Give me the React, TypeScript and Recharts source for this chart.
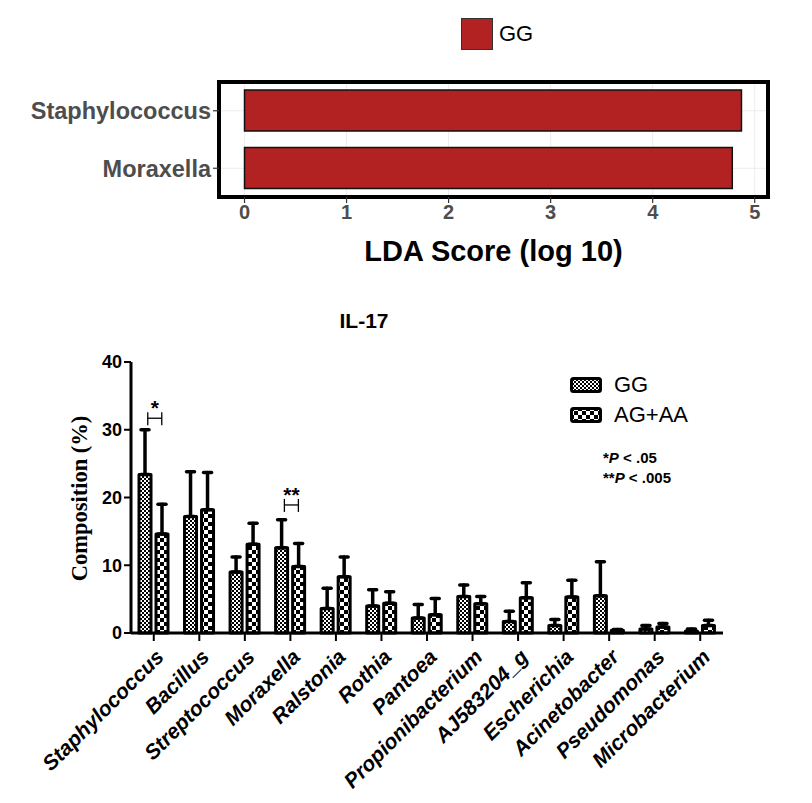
import React from 'react';
import {
  BarChart, Bar, XAxis, YAxis, CartesianGrid, ReferenceArea, ReferenceDot, ErrorBar, Label,
} from 'recharts';

// ---------- LDA panel data ----------
const ldaTaxa = ['Staphylococcus', 'Moraxella'];
const ldaScores = [4.87, 4.78];
const ldaTicks = [0, 1, 2, 3, 4, 5];
const ldaGroup = 'GG';

// ---------- IL-17 composition data ----------
const categories = [
  'Staphylococcus', 'Bacillus', 'Streptococcus', 'Moraxella', 'Ralstonia', 'Rothia', 'Pantoea',
  'Propionibacterium', 'AJ583204_g', 'Escherichia', 'Acinetobacter', 'Pseudomonas', 'Microbacterium',
];
const ggMean = [23.4, 17.2, 9.0, 12.6, 3.6, 4.0, 2.2, 5.4, 1.7, 1.1, 5.5, 0.6, 0.3];
const ggUpper = [30.0, 23.8, 11.2, 16.7, 6.6, 6.4, 4.2, 7.1, 3.2, 2.0, 10.5, 1.1, 0.6];
const agMean = [14.6, 18.2, 13.1, 9.8, 8.3, 4.4, 2.7, 4.3, 5.2, 5.3, 0.4, 0.9, 1.1];
const agUpper = [19.0, 23.7, 16.2, 13.2, 11.2, 6.1, 5.1, 5.4, 7.4, 7.8, 0.5, 1.4, 1.9];
const yTicks = [0, 10, 20, 30, 40];
const seriesNames = ['GG', 'AG+AA'];
const sigMarks = [
  { taxon: 'Staphylococcus', y: 31.7, label: '*' },
  { taxon: 'Moraxella', y: 18.9, label: '**' },
];
const pNotes = [
  { stars: '*', p: '.05' },
  { stars: '**', p: '.005' },
];

const ldaData = ldaTaxa.map((t, i) => ({ name: t, score: ldaScores[i] }));
const compData = categories.map((c, i) => ({
  name: c,
  gg: ggMean[i],
  ag: agMean[i],
  ggErr: [0, +(ggUpper[i] - ggMean[i]).toFixed(2)],
  agErr: [0, +(agUpper[i] - agMean[i]).toFixed(2)],
}));

const SANS = '"Liberation Sans", Arial, Helvetica, sans-serif';
const SERIF = '"Liberation Serif", "Times New Roman", serif';

const PatternDefs = () => (
  <defs>
    <pattern id="ggPat" width="4" height="4" patternUnits="userSpaceOnUse">
      <rect width="4" height="4" fill="#fff" />
      <rect x="0" y="0" width="2" height="2" fill="#000" />
      <rect x="2" y="2" width="2" height="2" fill="#000" />
    </pattern>
    <pattern id="agPat" width="8" height="8" patternUnits="userSpaceOnUse">
      <rect width="8" height="8" fill="#fff" />
      <rect x="0" y="0" width="4" height="4" fill="#000" />
      <rect x="4" y="4" width="4" height="4" fill="#000" />
    </pattern>
  </defs>
);

const RotTick = (props: any) => {
  const { x, y, payload } = props;
  return (
    <g transform={`translate(${x + 6},${y + 10})`}>
      <text
        transform="rotate(-45)"
        textAnchor="end"
        dy="0.35em"
        fontFamily={SANS}
        fontWeight="bold"
        fontStyle="italic"
        fontSize={21}
        fill="#000"
      >
        {payload.value}
      </text>
    </g>
  );
};

const SigShape = (label: string) => (props: any) => {
  const { cx, cy } = props;
  return (
    <g>
      <line x1={cx - 6} y1={cy} x2={cx + 8} y2={cy} stroke="#000" strokeWidth={1.3} />
      <line x1={cx - 6} y1={cy - 6} x2={cx - 6} y2={cy + 7} stroke="#000" strokeWidth={1.3} />
      <line x1={cx + 8} y1={cy - 6} x2={cx + 8} y2={cy + 7} stroke="#000" strokeWidth={1.3} />
      <text x={cx + 1} y={cy - 3} textAnchor="middle" fontFamily={SANS} fontSize={21} fontWeight="bold" fill="#000">
        {label}
      </text>
    </g>
  );
};

export default function App() {
  return (
    <div style={{ position: 'relative', width: 796, height: 787, background: '#fff' }}>
      <svg width={0} height={0} style={{ position: 'absolute' }}>
        <PatternDefs />
      </svg>

      {/* Top legend */}
      <div style={{ position: 'absolute', left: 453, top: 10, display: 'flex', alignItems: 'center' }}>
        <div style={{ width: 30, height: 30, background: '#b22222', border: '1.5px solid #333' }} />
        <span style={{ fontFamily: SANS, fontSize: 22, marginLeft: 6, color: '#000' }}>{ldaGroup}</span>
      </div>

      {/* LDA chart */}
      <div style={{ position: 'absolute', left: 0, top: 0 }}>
        <BarChart
          width={796}
          height={270}
          data={ldaData}
          layout="vertical"
          margin={{ top: 74, right: 36, bottom: 11, left: 0 }}
          barCategoryGap="14%"
        >
          <CartesianGrid stroke="#ececec" strokeWidth={1} />
          <XAxis
            type="number"
            domain={[-0.25, 5.13]}
            ticks={ldaTicks}
            axisLine={false}
            tickLine={{ stroke: '#333', strokeWidth: 1.2 }}
            tickSize={6}
            height={70}
            tick={{ fontFamily: SANS, fontSize: 20, fontWeight: 'bold', fill: '#4d4d4d' }}
          >
            <Label
              value="LDA Score (log 10)"
              position="insideBottom"
              offset={6}
              style={{ fontFamily: SANS, fontSize: 29, fontWeight: 'bold', fill: '#000' }}
            />
          </XAxis>
          <YAxis
            type="category"
            dataKey="name"
            width={211}
            axisLine={false}
            tickLine={{ stroke: '#333', strokeWidth: 1.2 }}
            tickSize={6}
            tick={{ fontFamily: SANS, fontSize: 23.5, fontWeight: 'bold', fill: '#4d4d4d' }}
          />
          <Bar dataKey="score" fill="#b22222" stroke="#111" strokeWidth={1.5} isAnimationActive={false} />
          <ReferenceArea x1={-0.25} x2={5.13} fill="none" stroke="#000" strokeWidth={4} ifOverflow="visible" />
        </BarChart>
      </div>

      {/* IL-17 title */}
      <div
        style={{
          position: 'absolute', left: 306, top: 301, width: 100, textAlign: 'center',
          fontFamily: SANS, fontWeight: 'bold', fontSize: 21, color: '#000',
        }}
      >
        IL-17
      </div>

      {/* Composition legend */}
      <div style={{ position: 'absolute', left: 562, top: 362, fontFamily: SANS, color: '#000' }}>
        {seriesNames.map((n, i) => (
          <div key={n} style={{ display: 'flex', alignItems: 'center', height: 30 }}>
            <svg width={32} height={16}>
              <rect x={1.5} y={1.5} width={29} height={13} rx={2} fill={i === 0 ? 'url(#ggPat)' : 'url(#agPat)'} stroke="#000" strokeWidth={3} />
            </svg>
            <span style={{ fontSize: 22, marginLeft: 12 }}>{n}</span>
          </div>
        ))}
        <div style={{ marginTop: 18, marginLeft: 33, fontSize: 15, fontWeight: 'bold', lineHeight: '20px' }}>
          {pNotes.map((p) => (
            <div key={p.p}>
              {p.stars}<i>P</i> &lt; {p.p}
            </div>
          ))}
        </div>
      </div>

      {/* Composition chart */}
      <div style={{ position: 'absolute', left: 0, top: 290 }}>
        <BarChart
          width={796}
          height={495}
          data={compData}
          margin={{ top: 64, right: 81, bottom: 10, left: 0 }}
          barSize={12}
          barGap={5}
        >
          <XAxis
            dataKey="name"
            interval={0}
            height={150}
            axisLine={{ stroke: '#000', strokeWidth: 3 }}
            tickLine={{ stroke: '#000', strokeWidth: 2 }}
            tickSize={8}
            tick={<RotTick />}
          />
          <YAxis
            domain={[0, 40]}
            ticks={yTicks}
            width={123}
            axisLine={{ stroke: '#000', strokeWidth: 3 }}
            tickLine={{ stroke: '#000', strokeWidth: 2 }}
            tickSize={7}
            tick={{ fontFamily: SANS, fontSize: 18, fontWeight: 'bold', fill: '#000' }}
          >
            <Label
              content={({ viewBox }: any) => {
                const cy = viewBox.y + viewBox.height / 2 + 1;
                return (
                  <text
                    x={79}
                    y={cy}
                    transform={`rotate(-90, 79, ${cy})`}
                    textAnchor="middle"
                    fontFamily={SERIF}
                    fontWeight="bold"
                    fontSize={22.5}
                    fill="#000"
                  >
                    Composition (%)
                  </text>
                );
              }}
            />
          </YAxis>
          <Bar dataKey="gg" name="GG" fill="url(#ggPat)" stroke="#000" strokeWidth={3} strokeLinejoin="round" isAnimationActive={false}>
            <ErrorBar dataKey="ggErr" direction="y" width={4} stroke="#000" strokeWidth={3.5} strokeLinecap="round" />
          </Bar>
          <Bar dataKey="ag" name="AG+AA" fill="url(#agPat)" stroke="#000" strokeWidth={3} strokeLinejoin="round" isAnimationActive={false}>
            <ErrorBar dataKey="agErr" direction="y" width={4} stroke="#000" strokeWidth={3.5} strokeLinecap="round" />
          </Bar>
          {sigMarks.map((s) => (
            <ReferenceDot key={s.taxon} x={s.taxon} y={s.y} r={0} shape={SigShape(s.label)} ifOverflow="visible" />
          ))}
        </BarChart>
      </div>
    </div>
  );
}
